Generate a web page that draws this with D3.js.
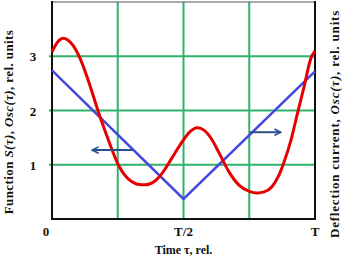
<!DOCTYPE html>
<html>
<head>
<meta charset="utf-8">
<script src="https://cdn.jsdelivr.net/npm/d3@7"></script>
<style>
  body { margin: 0; background: #fff; }
  svg text { font-family: "Liberation Serif", "Times New Roman", serif; font-weight: bold; fill: #111; }
</style>
</head>
<body>
<div id="chart"></div>
<script>
'use strict';

// time as fraction of period T
const red_t = [0, 0.023, 0.042, 0.060, 0.080, 0.098, 0.117, 0.136, 0.155, 0.174, 0.193, 0.212, 0.231, 0.250, 0.269, 0.290, 0.310, 0.331, 0.352, 0.373, 0.394, 0.420, 0.458, 0.496, 0.523, 0.553, 0.580, 0.606, 0.636, 0.674, 0.712, 0.750, 0.780, 0.807, 0.837, 0.860, 0.880, 0.909, 0.932, 0.958, 0.985, 1];
const red_v = [3.08, 3.27, 3.33, 3.30, 3.20, 3.05, 2.84, 2.58, 2.30, 2.01, 1.74, 1.49, 1.24, 1.02, 0.86, 0.74, 0.67, 0.635, 0.63, 0.65, 0.71, 0.85, 1.14, 1.43, 1.60, 1.68, 1.63, 1.48, 1.21, 0.86, 0.62, 0.51, 0.48, 0.50, 0.60, 0.78, 1.02, 1.46, 1.92, 2.43, 2.97, 3.10];

const blue_t = [0, 0.5, 1];
const blue_v = [2.74, 0.37, 2.72];

const x_ticks = [0, 0.5, 1];
const x_tick_labels = ['0', 'T/2', 'T'];
const x_grid = [0.25, 0.5, 0.75];
const y_ticks = [1, 2, 3];

// arrows: [t_from, t_to, value]
const arrows = [
    [0.308, 0.156, 1.27],
    [0.753, 0.867, 1.60]
];

const dim = { width: 343, height: 261, left: 52, right: 28, top: 2, bottom: 42 };
dim.chartwidth = dim.width - dim.left - dim.right;
dim.chartheight = dim.height - dim.top - dim.bottom;

const svg = d3.select('#chart')
    .append('svg')
    .attr('width', dim.width)
    .attr('height', dim.height);

const g = svg.append('g')
    .attr('transform', 'translate(' + dim.left + ',' + dim.top + ')');

const xScale = d3.scaleLinear().domain([0, 1]).range([0, dim.chartwidth]);
const yScale = d3.scaleLinear().domain([0, 4]).range([dim.chartheight, 0]);

// grid
g.selectAll('.vgrid')
    .data(x_grid)
    .enter()
    .append('line')
    .attr('x1', d => xScale(d)).attr('x2', d => xScale(d))
    .attr('y1', 0).attr('y2', dim.chartheight)
    .attr('stroke', '#2fb36a').attr('stroke-width', 2);

g.selectAll('.hgrid')
    .data(y_ticks)
    .enter()
    .append('line')
    .attr('x1', -3).attr('x2', dim.chartwidth)
    .attr('y1', d => yScale(d)).attr('y2', d => yScale(d))
    .attr('stroke', '#2fb36a').attr('stroke-width', 2);

// frame
g.append('line').attr('x1', 0).attr('x2', dim.chartwidth).attr('y1', 0).attr('y2', 0)
    .attr('stroke', '#555').attr('stroke-width', 1);
g.append('line').attr('x1', 0).attr('x2', 0).attr('y1', -1).attr('y2', dim.chartheight + 1)
    .attr('stroke', '#111').attr('stroke-width', 2);
g.append('line').attr('x1', dim.chartwidth).attr('x2', dim.chartwidth).attr('y1', -1).attr('y2', dim.chartheight + 1)
    .attr('stroke', '#111').attr('stroke-width', 2);
g.append('line').attr('x1', -1).attr('x2', dim.chartwidth + 1).attr('y1', dim.chartheight).attr('y2', dim.chartheight)
    .attr('stroke', '#111').attr('stroke-width', 2);

// blue line
const blue = blue_t.map((t, i) => ({ t: t, v: blue_v[i] }));
g.append('path')
    .datum(blue)
    .attr('fill', 'none')
    .attr('stroke', '#4646e0')
    .attr('stroke-width', 2.5)
    .attr('d', d3.line().x(d => xScale(d.t)).y(d => yScale(d.v)));

// red curve
const red = red_t.map((t, i) => ({ t: t, v: red_v[i] }));
g.append('path')
    .datum(red)
    .attr('fill', 'none')
    .attr('stroke', '#e60000')
    .attr('stroke-width', 3)
    .attr('d', d3.line().curve(d3.curveMonotoneX).x(d => xScale(d.t)).y(d => yScale(d.v)));

// arrows
svg.append('defs').append('marker')
    .attr('id', 'arr')
    .attr('viewBox', '0 0 10 10')
    .attr('refX', 8).attr('refY', 5)
    .attr('markerWidth', 4).attr('markerHeight', 4)
    .attr('orient', 'auto')
    .append('path')
    .attr('d', 'M1,1 L9,5 L1,9')
    .attr('fill', 'none')
    .attr('stroke', '#2c4f8c')
    .attr('stroke-width', 2);

g.selectAll('.arrow')
    .data(arrows)
    .enter()
    .append('line')
    .attr('x1', d => xScale(d[0])).attr('x2', d => xScale(d[1]))
    .attr('y1', d => yScale(d[2])).attr('y2', d => yScale(d[2]))
    .attr('stroke', '#2c4f8c').attr('stroke-width', 2)
    .attr('marker-end', 'url(#arr)');

// tick labels
g.selectAll('.ylab')
    .data(y_ticks)
    .enter()
    .append('text')
    .attr('x', -19)
    .attr('y', d => yScale(d) + 5)
    .attr('text-anchor', 'middle')
    .style('font-size', '13px')
    .text(d => d);

g.selectAll('.xlab')
    .data(x_ticks)
    .enter()
    .append('text')
    .attr('x', (d, i) => xScale(d) + (i == 0 ? -6 : 0))
    .attr('y', dim.chartheight + 17)
    .attr('text-anchor', 'middle')
    .style('font-size', '13px')
    .text((d, i) => x_tick_labels[i]);

// axis titles
g.append('text')
    .attr('x', xScale(0.5))
    .attr('y', dim.chartheight + 35)
    .attr('text-anchor', 'middle')
    .style('font-size', '12px')
    .text('Time \u03c4, rel.');

const lt = svg.append('text')
    .attr('transform', 'translate(13,122) rotate(-90)')
    .attr('text-anchor', 'middle')
    .style('font-size', '13px')
    .style('letter-spacing', '0.4px');
lt.append('tspan').text('Function ');
lt.append('tspan').style('font-style', 'italic').text('S(\u03c4)');
lt.append('tspan').text(', ');
lt.append('tspan').style('font-style', 'italic').text('Osc(\u03c4)');
lt.append('tspan').text(', rel. units');

const rt = svg.append('text')
    .attr('transform', 'translate(339,124) rotate(-90)')
    .attr('text-anchor', 'middle')
    .style('font-size', '13px')
    .style('letter-spacing', '0.8px');
rt.append('tspan').text('Deflection current, ');
rt.append('tspan').style('font-style', 'italic').text('Osc(\u03c4)');
rt.append('tspan').text(', rel. units');
</script>
</body>
</html>
